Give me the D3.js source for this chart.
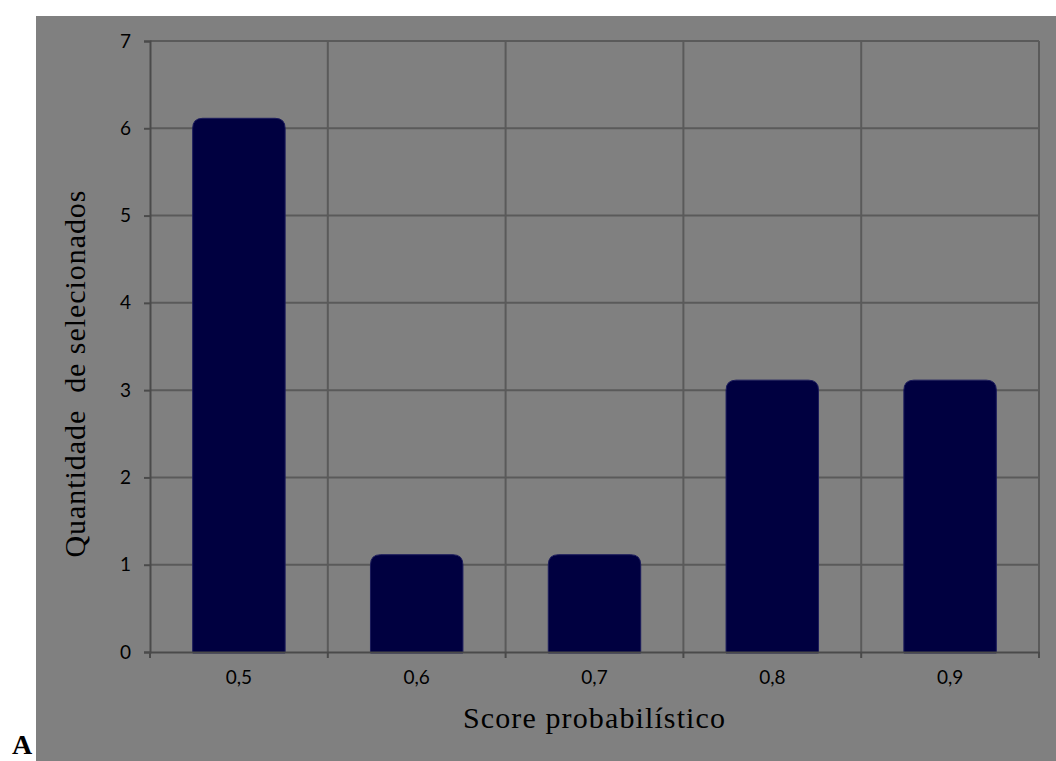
<!DOCTYPE html>
<html><head><meta charset="utf-8">
<script src="https://cdn.jsdelivr.net/npm/d3@7"></script>
<style>html,body{margin:0;padding:0;background:#fff;}svg{display:block;}</style>
</head><body>
<script>
const categories = ["0,5", "0,6", "0,7", "0,8", "0,9"];
const counts = [6, 1, 1, 3, 3];
const yTicks = [0, 1, 2, 3, 4, 5, 6, 7];
const xTitle = "Score probabilístico";
const yTitle = "Quantidade  de selecionados";
const panelLabel = "A";

const W = 1056, H = 761;
const m = {left: 150, right: 1039, top: 41, bottom: 652};
const svg = d3.select("body").append("svg").attr("width", W).attr("height", H);

svg.append("rect").attr("x", 36).attr("y", 16).attr("width", W - 36).attr("height", H - 16).attr("fill", "#808080");

const x = d3.scaleBand().domain(categories).range([m.left, m.right]).paddingInner(0.48).paddingOuter(0.24);
const xb = d3.scaleBand().domain(categories).range([m.left, m.right]);
const y = d3.scaleLinear().domain([0, 7]).range([m.bottom, m.top]);
const gridColor = "#5a5a5a";

svg.append("g").selectAll("line").data(yTicks.slice(1)).join("line")
  .attr("x1", m.left).attr("x2", m.right).attr("y1", d => y(d)).attr("y2", d => y(d))
  .attr("stroke", gridColor).attr("stroke-width", 2);
svg.append("g").selectAll("line").data(categories.slice(1).map(c => xb(c)).concat([m.right])).join("line")
  .attr("x1", d => d).attr("x2", d => d).attr("y1", m.top).attr("y2", m.bottom)
  .attr("stroke", gridColor).attr("stroke-width", 2);

const cap = 10, r = 10;
svg.append("g").selectAll("path").data(counts).join("path")
  .attr("d", (d, i) => {
    const x0 = x(categories[i]), x1 = x0 + x.bandwidth();
    const yt = y(d) - cap, yb = y(0) + 1;
    return `M${x0},${yb} L${x0},${yt + r} Q${x0},${yt} ${x0 + r},${yt} L${x1 - r},${yt} Q${x1},${yt} ${x1},${yt + r} L${x1},${yb} Z`;
  })
  .attr("fill", "#000040").attr("stroke", "#1c1c5c").attr("stroke-width", 1);

const tickFont = "Lato, 'Open Sans', sans-serif";
const yAxis = svg.append("g").attr("transform", `translate(${m.left},0)`)
  .call(d3.axisLeft(y).tickValues(yTicks).tickSize(6).tickPadding(13).tickFormat(d3.format("d")));
yAxis.select(".domain").attr("stroke", "#4a4a4a").attr("stroke-width", 2);
yAxis.selectAll(".tick line").attr("stroke", "#4a4a4a").attr("stroke-width", 2);
yAxis.selectAll("text").attr("font-family", tickFont).attr("font-size", 19).attr("fill", "#000");

const xAxis = svg.append("g").attr("transform", `translate(0,${m.bottom})`)
  .call(d3.axisBottom(x).tickSize(0).tickPadding(19));
xAxis.select(".domain").attr("stroke", "#4a4a4a").attr("stroke-width", 2);
xAxis.selectAll("text").attr("font-family", tickFont).attr("font-size", 19).attr("fill", "#000");
svg.append("g").selectAll("line").data([m.left].concat(categories.slice(1).map(c => xb(c))).concat([m.right])).join("line")
  .attr("x1", d => d).attr("x2", d => d).attr("y1", m.bottom).attr("y2", m.bottom + 6)
  .attr("stroke", "#4a4a4a").attr("stroke-width", 2);

const serif = "'Liberation Serif', 'DejaVu Serif', serif";
svg.append("text").attr("x", 594).attr("y", 728).attr("text-anchor", "middle")
  .attr("font-family", serif).attr("font-size", 30)
  .attr("textLength", 262).attr("lengthAdjust", "spacing")
  .attr("fill", "#000").text(xTitle);
svg.append("text").attr("transform", "translate(85,374) rotate(-90)").attr("text-anchor", "middle")
  .attr("font-family", serif).attr("font-size", 30)
  .attr("textLength", 367).attr("lengthAdjust", "spacing")
  .attr("fill", "#000").style("white-space", "pre").text(yTitle);
svg.append("text").attr("x", 12).attr("y", 754)
  .attr("font-family", serif).attr("font-size", 28).attr("font-weight", "bold")
  .attr("fill", "#000").text(panelLabel);
</script>
</body></html>
